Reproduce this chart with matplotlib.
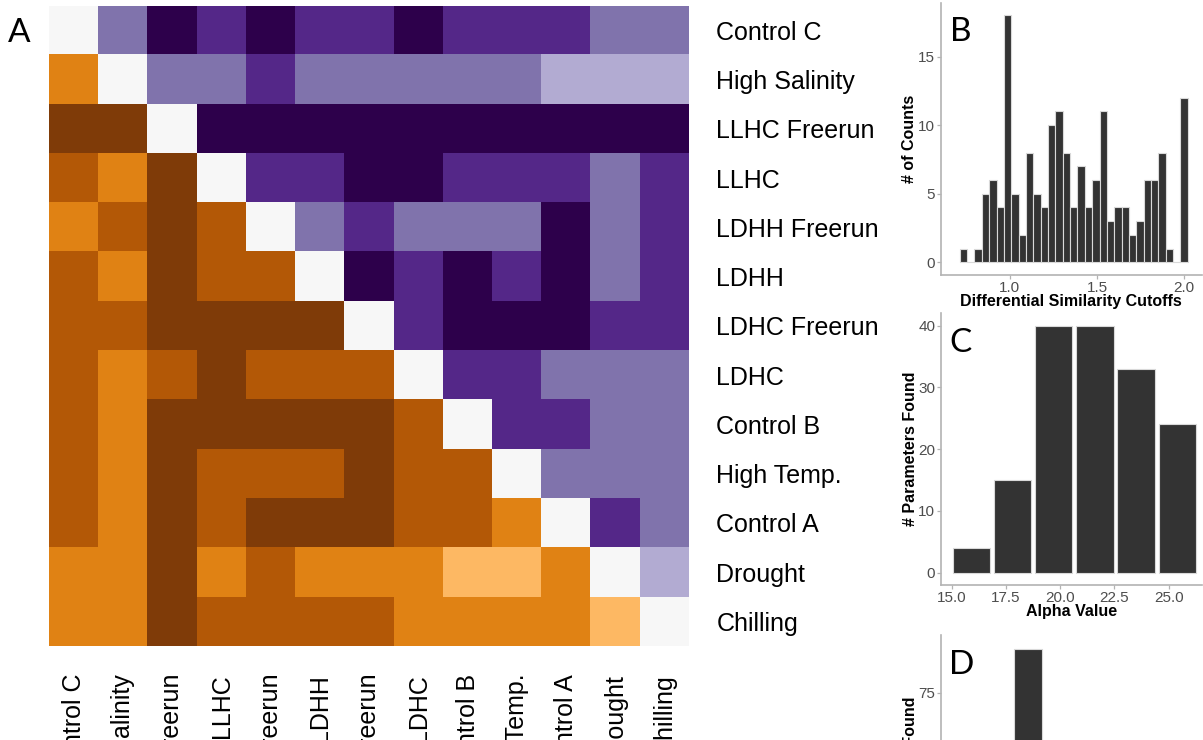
import numpy as np
import matplotlib
matplotlib.use("Agg")
import matplotlib.pyplot as plt
from matplotlib.colors import ListedColormap, BoundaryNorm

# Figure size in pixels (dpi 100)
W, H = 1203, 740

# Panel A: pairwise similarity matrix
# positive = purple shades (upper triangle), negative = orange shades (lower triangle)
conditions = ["Control C", "High Salinity", "LLHC Freerun", "LLHC", "LDHH Freerun",
              "LDHH", "LDHC Freerun", "LDHC", "Control B", "High Temp.",
              "Control A", "Drought", "Chilling"]
sim_levels = [
    [0, 2, 4, 3, 4, 3, 3, 4, 3, 3, 3, 2, 2],
    [-2, 0, 2, 2, 3, 2, 2, 2, 2, 2, 1, 1, 1],
    [-4, -4, 0, 4, 4, 4, 4, 4, 4, 4, 4, 4, 4],
    [-3, -2, -4, 0, 3, 3, 4, 4, 3, 3, 3, 2, 3],
    [-2, -3, -4, -3, 0, 2, 3, 2, 2, 2, 4, 2, 3],
    [-3, -2, -4, -3, -3, 0, 4, 3, 4, 3, 4, 2, 3],
    [-3, -3, -4, -4, -4, -4, 0, 3, 4, 4, 4, 3, 3],
    [-3, -2, -3, -4, -3, -3, -3, 0, 3, 3, 2, 2, 2],
    [-3, -2, -4, -4, -4, -4, -4, -3, 0, 3, 3, 2, 2],
    [-3, -2, -4, -3, -3, -3, -4, -3, -3, 0, 2, 2, 2],
    [-3, -2, -4, -3, -4, -4, -4, -3, -3, -2, 0, 3, 2],
    [-2, -2, -4, -2, -3, -2, -2, -2, -1, -1, -2, 0, 1],
    [-2, -2, -4, -3, -3, -3, -3, -2, -2, -2, -2, -1, 0],
]
level_colors = ["#7f3b08", "#b35806", "#e08214", "#fdb863", "#f7f7f7",
                "#b2abd2", "#8073ac", "#542788", "#2d004b"]

# Panel B: histogram of differential similarity cutoffs
b_first_edge = 0.7126
b_bin_width = 0.0422
b_counts = [1, 0, 1, 5, 6, 4, 18, 5, 2, 8, 5, 4, 10, 11, 8, 4, 7, 4, 6, 11,
            3, 4, 4, 2, 3, 6, 6, 8, 1, 0, 12]

# Panel C: parameters found per alpha value
c_alpha = [15.9, 17.8, 19.7, 21.6, 23.5, 25.4]
c_found = [4, 15, 40, 40, 33, 24]

# Panel D: only the top of one bar is visible
d_x = [3.34]
d_found = [91]

BAR = "#333333"
EDGE = "#d9d9d9"
AXIS_GRAY = "#b3b3b3"
TICK_TXT = "#4d4d4d"


def px_rect(x0, y0, x1, y1):
    return [x0 / W, 1 - y1 / H, (x1 - x0) / W, (y1 - y0) / H]


fig = plt.figure(figsize=(W / 100, H / 100), dpi=100)
plt.rcParams['font.family'] = ['Liberation Sans', 'DejaVu Sans']

# ---- heatmap ----
ax = fig.add_axes(px_rect(49.3, 5.7, 689.3, 646))
cmap = ListedColormap(level_colors)
norm = BoundaryNorm(np.arange(-4.5, 5.5, 1), cmap.N)
ax.imshow(np.array(sim_levels), cmap=cmap, norm=norm, aspect='auto',
          interpolation='nearest')
for s in ax.spines.values():
    s.set_visible(False)
ax.yaxis.tick_right()
ax.set_yticks(range(len(conditions)))
ax.set_yticklabels(conditions, fontsize=18, color='black')
ax.set_xticks(range(len(conditions)))
ax.set_xticklabels(conditions, fontsize=18, color='black', rotation=90,
                   ha='center', va='top')
ax.tick_params(axis='y', length=0, pad=19.5)
ax.tick_params(axis='x', length=0, pad=20)


def style_hist(a, xlabel, ylabel, height_px):
    for side in ('top', 'right'):
        a.spines[side].set_visible(False)
    for side in ('left', 'bottom'):
        a.spines[side].set_color(AXIS_GRAY)
        a.spines[side].set_linewidth(1.2)
    a.tick_params(colors=AXIS_GRAY, labelcolor=TICK_TXT, labelsize=11,
                  length=3, width=0.9, pad=1)
    if xlabel:
        a.set_xlabel(xlabel, fontsize=11.5, fontweight='bold', color='black')
        a.xaxis.set_label_coords(0.5, -19.0 / height_px)
        a.xaxis.label.set_va('top')
    a.set_ylabel(ylabel, fontsize=11.5, fontweight='bold', color='black')
    a.yaxis.set_label_coords(-30.5 / 261.3, 0.5)
    a.yaxis.label.set_va('center')


# ---- panel B ----
axb = fig.add_axes(px_rect(940.5, 3, 1202, 275))
b_edges = b_first_edge + b_bin_width * np.arange(len(b_counts))
axb.bar(b_edges, b_counts, width=b_bin_width, align='edge', color=BAR,
        edgecolor=EDGE, linewidth=0.8)
axb.set_xlim(0.602, 2.102)
axb.set_ylim(-0.92, 18.9)
axb.set_xticks([1.0, 1.5, 2.0])
axb.set_yticks([0, 5, 10, 15])
style_hist(axb, "Differential Similarity Cutoffs", "# of Counts", 272)

# ---- panel C ----
axc = fig.add_axes(px_rect(940.7, 313.3, 1202, 585))
axc.bar(c_alpha, c_found, width=1.72, color=BAR, edgecolor=EDGE, linewidth=0.8)
axc.set_xlim(14.49, 26.54)
axc.set_ylim(-2, 42)
axc.set_xticks([15.0, 17.5, 20.0, 22.5, 25.0])
axc.set_xticklabels(["15.0", "17.5", "20.0", "22.5", "25.0"])
axc.set_yticks([0, 10, 20, 30, 40])
style_hist(axc, "Alpha Value", "# Parameters Found", 272)

# ---- panel D (cut off at the bottom) ----
axd = fig.add_axes(px_rect(940.7, 635, 1202, 912))
axd.bar(d_x, d_found, width=1.06, color=BAR, edgecolor=EDGE, linewidth=0.8)
axd.set_xlim(0, 10)
axd.set_ylim(-4.57, 95.97)
axd.set_yticks([0, 25, 50, 75])
axd.set_xticks([])
style_hist(axd, None, "# Parameters Found", 277)

# ---- panel letters ----
for letter, x, y in [("A", 19, 42), ("B", 961, 41), ("C", 961, 352), ("D", 962, 674)]:
    fig.text(x / W, 1 - y / H, letter, fontsize=24, family='Lato',
             ha='center', va='baseline', color='black')

fig.savefig("out.png", dpi=100)
